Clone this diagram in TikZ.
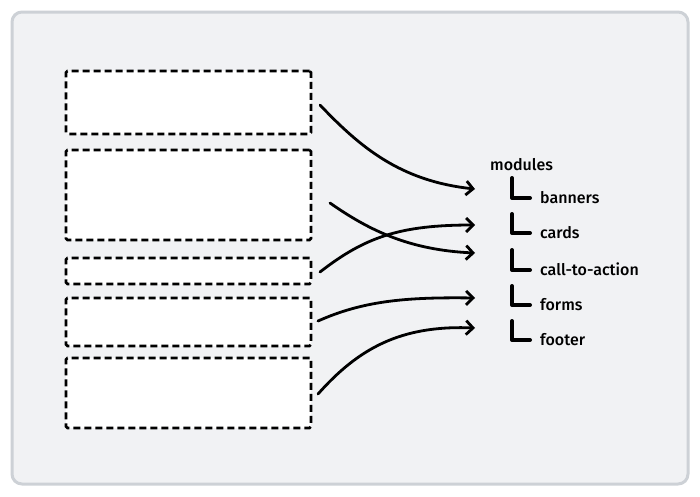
\documentclass[tikz,border=0pt]{standalone}
\usepackage{fontspec}
\setmainfont{Fira Sans}[UprightFont=* Medium]
\usetikzlibrary{arrows.meta}
\definecolor{panel}{HTML}{F1F2F4}
\definecolor{panelline}{HTML}{CDD1D6}
\tikzset{
  slot/.style={draw=black, fill=white, line width=2.8pt, dash pattern=on 7pt off 4pt, rounded corners=1.5pt},
  link/.style={draw=black, line width=2.8pt, line cap=round, -{Straight Barb[length=7pt,width=14pt,line width=2.8pt]}},
  item/.style={anchor=base west, inner sep=0pt, font=\fontsize{16}{18}\selectfont},
  treeL/.style={draw=black, line width=4pt, line cap=round, line join=round}
}
\begin{document}
\begin{tikzpicture}[x=1pt,y=-1pt]
\useasboundingbox (0,0) rectangle (700,496);
\fill[white] (0,0) rectangle (700,496);
\draw[panelline, fill=panel, line width=3pt, rounded corners=10pt] (12,12) rectangle (688,484);

% boxes
\node[slot, minimum width=245pt, minimum height=63pt, inner sep=0pt] (b1) at (188.5,102.5) {};
\node[slot, minimum width=245pt, minimum height=90pt, inner sep=0pt] (b2) at (188.5,195) {};
\node[slot, minimum width=245pt, minimum height=26pt, inner sep=0pt] (b3) at (188.5,271) {};
\node[slot, minimum width=245pt, minimum height=48pt, inner sep=0pt] (b4) at (188.5,322) {};
\node[slot, minimum width=245pt, minimum height=70pt, inner sep=0pt] (b5) at (188.5,393) {};

% tree text
\node[item] (mod) at (490,170) {modules};
\node[item] (ban) at (540,203) {banners};
\node[item] (car) at (540,238) {cards};
\node[item] (cta) at (540,275) {call-to-action};
\node[item] (frm) at (540,310) {forms};
\node[item] (foo) at (540,345) {footer};

% L glyphs
\draw[treeL] (512,178) -- (512,198) -- (530,198);
\draw[treeL] (512,214) -- (512,233) -- (530,233);
\draw[treeL] (512,250) -- (512,270) -- (530,270);
\draw[treeL] (512,286) -- (512,305) -- (530,305);
\draw[treeL] (512,321) -- (512,340) -- (530,340);

% arrow endpoints
\coordinate (s1) at (320,105);
\coordinate (s2) at (330,203);
\coordinate (s3) at (320,272);
\coordinate (s4) at (318,321);
\coordinate (s5) at (318,394);
\coordinate (e1) at (475,189);
\coordinate (e2) at (475,253);
\coordinate (e3) at (475,225);
\coordinate (e4) at (475,298);
\coordinate (e5) at (475,328);

\draw[link] (s1) .. controls +(40,42) and +(-75,-8) .. (e1);
\draw[link] (s2) .. controls +(40,28) and +(-65,-3) .. (e2);
\draw[link] (s3) .. controls +(45,-35) and +(-75,0) .. (e3);
\draw[link] (s4) .. controls +(45,-20) and +(-70,-1) .. (e4);
\draw[link] (s5) .. controls +(40,-45) and +(-75,-3) .. (e5);
\end{tikzpicture}
\end{document}
